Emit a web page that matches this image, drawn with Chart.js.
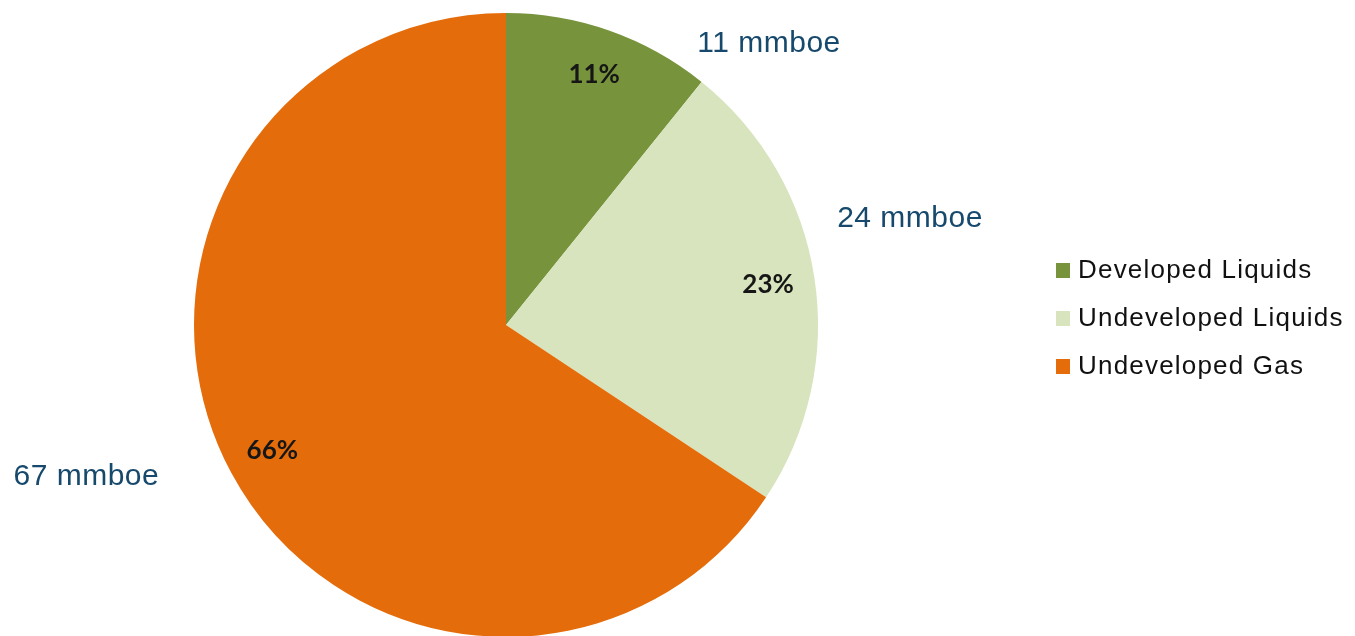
<!DOCTYPE html>
<html>
<head>
<meta charset="utf-8">
<script src="https://cdn.jsdelivr.net/npm/chart.js@4"></script>
<style>
  html, body { margin: 0; padding: 0; background: #fff; overflow: hidden; }
  #wrap { position: relative; width: 1355px; height: 650px; }
</style>
</head>
<body>
<div id="wrap"><canvas id="reservesChart"></canvas></div>
<script>
var categories = ['Developed Liquids', 'Undeveloped Liquids', 'Undeveloped Gas'];
var volumes = [11, 24, 67]; // mmboe
var percentLabels = ['11%', '23%', '66%'];
var volumeLabels = ['11 mmboe', '24 mmboe', '67 mmboe'];
var sliceColors = ['#77933C', '#D7E4BD', '#E46C0A'];

// where the outside labels sit, as offsets from the centre in units of the radius
var volumeOffsets = [[0.843, -0.9], [1.295, -0.34], [-1.345, 0.487]];

var labelPlugin = {
  id: 'sliceLabels',
  afterDatasetsDraw: function (chart) {
    var ctx = chart.ctx;
    var meta = chart.getDatasetMeta(0);
    ctx.save();
    ctx.textAlign = 'center';
    ctx.textBaseline = 'middle';
    meta.data.forEach(function (arc, i) {
      var p = arc.getProps(['x', 'y', 'startAngle', 'endAngle', 'outerRadius'], true);
      var mid = (p.startAngle + p.endAngle) / 2;
      var r = p.outerRadius;
      // percentage inside the slice
      ctx.font = 'bold 26px Lato';
      ctx.fillStyle = '#161616';
      ctx.letterSpacing = '0px';
      ctx.fillText(percentLabels[i], p.x + Math.cos(mid) * r * 0.85, p.y + Math.sin(mid) * r * 0.85);
      // volume outside
      ctx.font = '30px "Liberation Sans"';
      ctx.fillStyle = '#16496C';
      ctx.letterSpacing = '0.5px';
      ctx.fillText(volumeLabels[i], p.x + volumeOffsets[i][0] * r, p.y + volumeOffsets[i][1] * r);
    });
    ctx.restore();
  }
};

var legendPlugin = {
  id: 'sideLegend',
  afterDraw: function (chart) {
    var ctx = chart.ctx;
    var ds = chart.data.datasets[0];
    ctx.save();
    ctx.textBaseline = 'middle';
    ctx.textAlign = 'left';
    ctx.font = '26px "Liberation Sans"';
    ctx.letterSpacing = '1.2px';
    chart.data.labels.forEach(function (lab, i) {
      var y = 270 + i * 48;
      ctx.fillStyle = ds.backgroundColor[i];
      ctx.fillRect(1056, y - 7, 14, 15);
      ctx.fillStyle = '#111';
      ctx.fillText(lab, 1078, y + 1);
    });
    ctx.restore();
  }
};

var ctx = document.getElementById('reservesChart').getContext('2d');
var chart = new Chart(ctx, {
  type: 'pie',
  data: {
    labels: categories,
    datasets: [{
      data: volumes,
      backgroundColor: sliceColors,
      borderWidth: 0,
      hoverOffset: 0
    }]
  },
  options: {
    responsive: true,
    maintainAspectRatio: false,
    animation: false,
    layout: {
      padding: { top: 13, bottom: 13, left: 0, right: 343 }
    },
    plugins: {
      legend: { display: false },
      tooltip: { enabled: false }
    }
  },
  plugins: [labelPlugin, legendPlugin]
});
</script>
</body>
</html>
